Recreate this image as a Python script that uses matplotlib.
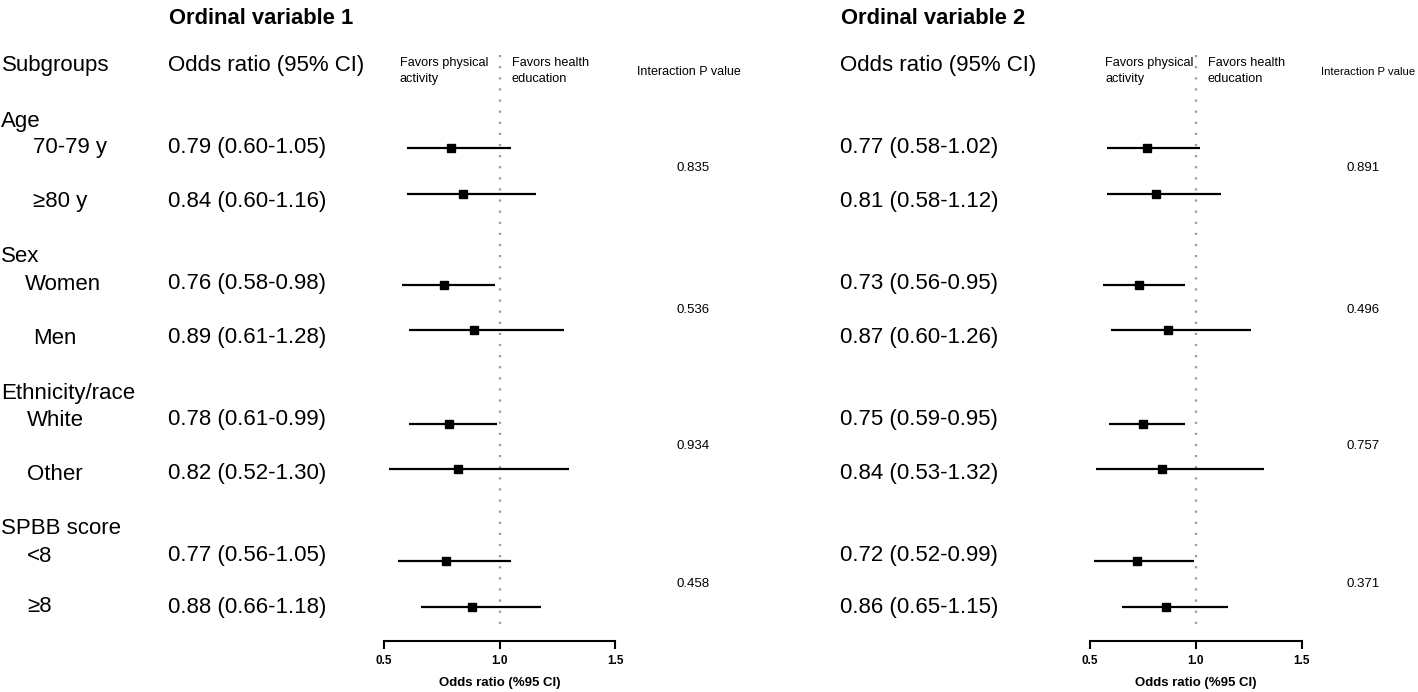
import matplotlib
matplotlib.use('Agg')
import matplotlib.pyplot as plt

plt.rcParams['font.family'] = ['Liberation Sans', 'DejaVu Sans']

## Data
groups = ['Age', 'Sex', 'Ethnicity/race', 'SPBB score']
subgroups = ['70-79 y', '\u226580 y', 'Women', 'Men', 'White', 'Other', '<8', '\u22658']

or1 = [0.79, 0.84, 0.76, 0.89, 0.78, 0.82, 0.77, 0.88]
lo1 = [0.60, 0.60, 0.58, 0.61, 0.61, 0.52, 0.56, 0.66]
hi1 = [1.05, 1.16, 0.98, 1.28, 0.99, 1.30, 1.05, 1.18]
p1 = ['0.835', '0.536', '0.934', '0.458']

or2 = [0.77, 0.81, 0.73, 0.87, 0.75, 0.84, 0.72, 0.86]
lo2 = [0.58, 0.58, 0.56, 0.60, 0.59, 0.53, 0.52, 0.65]
hi2 = [1.02, 1.12, 0.95, 1.26, 0.95, 1.32, 0.99, 1.15]
p2 = ['0.891', '0.496', '0.757', '0.371']

## Layout (pixel rows, measured from top)
W, H = 1418, 692
group_y = [121, 256, 393, 529]
text_y = [148, 202, 284, 338, 420, 474, 556, 607]
mark_y = [148, 194, 285, 330, 424, 469, 561, 607]
label_x = [33, 33, 25, 33, 27, 27, 27, 27]
p_y = [168, 310, 446, 584]

panels = [
    dict(title='Ordinal variable 1', orx=168, ax_x=(384, 615), fav1=400, fav2=512, px=637, pfs=9,
         pvx=693, est=or1, lo=lo1, hi=hi1, p=p1),
    dict(title='Ordinal variable 2', orx=840, ax_x=(1090, 1302), fav1=1105, fav2=1208, px=1321, pfs=8.2,
         pvx=1363, est=or2, lo=lo2, hi=hi2, p=p2),
]

fig = plt.figure(figsize=(W / 100, H / 100), dpi=100)
bg = fig.add_axes([0, 0, 1, 1])
bg.set_xlim(0, W)
bg.set_ylim(H, 0)
bg.axis('off')

main_fs = 16
small_fs = 9.2
bg.text(2, 66, 'Subgroups', fontsize=main_fs, va='center')
for g, y in zip(groups, group_y):
    bg.text(1, y, g, fontsize=main_fs, va='center')
for s, x, y in zip(subgroups, label_x, text_y):
    bg.text(x, y, s, fontsize=main_fs, va='center')

ax_top, ax_bot = 40, 641
for pn in panels:
    bg.text(pn['orx'] + 1, 18, pn['title'], fontsize=15.8, fontweight='bold', va='center')
    bg.text(pn['orx'], 66, 'Odds ratio (95% CI)', fontsize=main_fs, va='center')
    for e, l, h, y in zip(pn['est'], pn['lo'], pn['hi'], text_y):
        bg.text(pn['orx'], y, f'{e:.2f} ({l:.2f}-{h:.2f})', fontsize=main_fs, va='center')
    bg.text(pn['fav1'], 71, 'Favors physical\nactivity', fontsize=small_fs, va='center',
            linespacing=1.35)
    bg.text(pn['fav2'], 71, 'Favors health\neducation', fontsize=small_fs, va='center',
            linespacing=1.35)
    bg.text(pn['px'], 72, 'Interaction P value', fontsize=pn['pfs'], va='center')
    for pv, y in zip(pn['p'], p_y):
        bg.text(pn['pvx'], y, pv, fontsize=9.5, va='center', ha='center')

    x0, x1 = pn['ax_x']
    ax = fig.add_axes([x0 / W, (H - ax_bot) / H, (x1 - x0) / W, (ax_bot - ax_top) / H])
    ax.set_xlim(0.5, 1.5)
    ax.set_ylim(ax_bot, ax_top)
    ax.patch.set_alpha(0)
    for side in ['top', 'right', 'left']:
        ax.spines[side].set_visible(False)
    ax.spines['bottom'].set_linewidth(1.5)
    ax.set_yticks([])
    ax.set_xticks([0.5, 1.0, 1.5])
    ax.set_xticklabels(['0.5', '1.0', '1.5'])
    ax.tick_params(axis='x', length=6, width=1.5, pad=4)
    for t in ax.get_xticklabels():
        t.set_fontweight('bold')
        t.set_fontsize(8.5)
    ax.set_xlabel('Odds ratio (%95 CI)', fontsize=9.5, fontweight='bold', labelpad=7)

    ax.vlines(1.0, 55, 632, colors='#9a9a9a', linestyles=(0, (1, 4)), linewidth=1.6)
    ax.hlines(mark_y, pn['lo'], pn['hi'], colors='black', linewidth=1.6)
    ax.plot(pn['est'], mark_y, 's', color='black', markersize=6, clip_on=False)

fig.savefig('out.png', dpi=100)
